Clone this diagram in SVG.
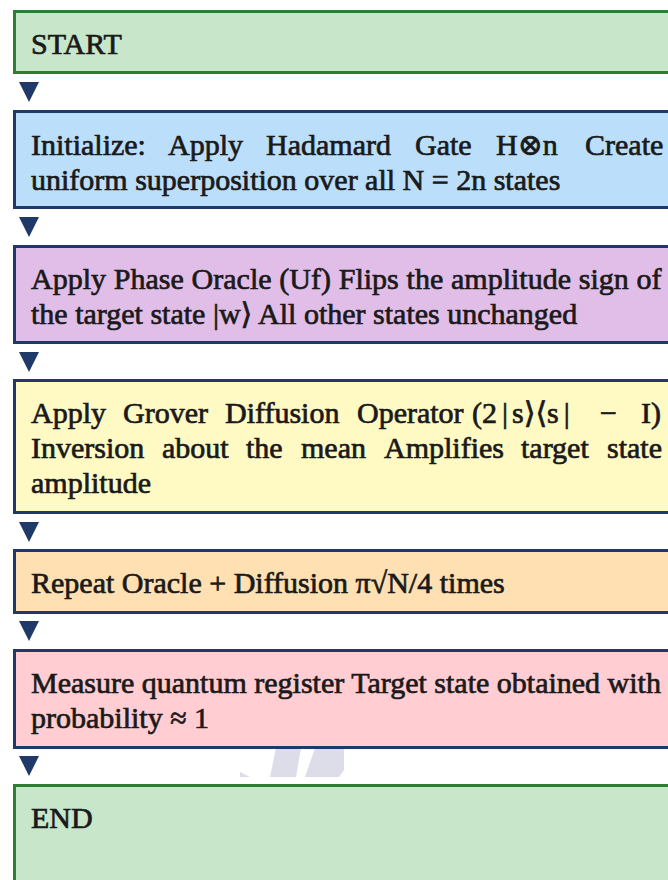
<svg xmlns="http://www.w3.org/2000/svg" width="668" height="880" viewBox="0 0 668 880">
  <defs>
    <style>
      .box-term { fill: #c8e6c9; stroke: #2e7d32; stroke-width: 3; }
      .box-step { stroke: #1f3a68; stroke-width: 3; }
      .label { font-family: "Liberation Serif", "DejaVu Serif", serif; font-size: 30px; fill: #1a1a1a; stroke: #1a1a1a; stroke-width: 0.7px; }
      .arrow { fill: #1f3a68; }
      .mark { fill: #dcdde8; }
    </style>
  </defs>
  <rect width="668" height="880" fill="#ffffff"/>

  <!-- faint logo fragments behind the last two boxes -->
  <g id="logo-fragments">
    <polygon class="mark" points="240,772 250,777 240,777"/>
    <polygon class="mark" points="276,748 301,748 296,777 270,777"/>
    <polygon class="mark" points="315,748 344,748 344,770 339,777 305,777"/>
  </g>

  <g id="connectors">
    <polygon class="arrow" points="19,82 39,82 29,102"/>
    <polygon class="arrow" points="19,217 39,217 29,237"/>
    <polygon class="arrow" points="19,352 39,352 29,372"/>
    <polygon class="arrow" points="19,522 39,522 29,542"/>
    <polygon class="arrow" points="19,621 39,621 29,641"/>
    <polygon class="arrow" points="19,756 39,756 29,776"/>
  </g>

  <g id="start">
    <rect class="box-term" x="14.5" y="11.5" width="680" height="61"/>
    <text class="label" x="31" y="54">START</text>
  </g>

  <g id="initialize">
    <rect class="box-step" fill="#bbdefb" x="14.5" y="111.5" width="680" height="96"/>
    <!-- justified first line: words placed on an even gap -->
    <text class="label" y="155"><tspan x="31">Initialize:</tspan><tspan x="168">Apply</tspan><tspan x="266">Hadamard</tspan><tspan x="415">Gate</tspan><tspan x="496">H⊗n</tspan><tspan x="585">Create</tspan></text>
    <text class="label" x="31" y="190">uniform superposition over all N = 2n states</text>
  </g>

  <g id="oracle">
    <rect class="box-step" fill="#e1bee7" x="14.5" y="246.5" width="680" height="96"/>
    <text class="label" x="31" y="289" word-spacing="0.3">Apply Phase Oracle (Uf) Flips the amplitude sign of</text>
    <text class="label" x="31" y="324">the target state |w⟩ All other states unchanged</text>
  </g>

  <g id="diffusion">
    <rect class="box-step" fill="#fff9c4" x="14.5" y="380.5" width="680" height="132"/>
    <text class="label" y="423"><tspan x="31">Apply</tspan><tspan x="123">Grover</tspan><tspan x="225">Diffusion</tspan><tspan x="357">Operator</tspan><tspan x="472">(2</tspan><tspan dx="5">|</tspan><tspan dx="4">s⟩⟨s</tspan><tspan dx="5">|</tspan><tspan x="600">−</tspan><tspan x="641">I)</tspan></text>
    <text class="label" y="458"><tspan x="31">Inversion</tspan><tspan x="162">about</tspan><tspan x="246">the</tspan><tspan x="301">mean</tspan><tspan x="384">Amplifies</tspan><tspan x="521">target</tspan><tspan x="607">state</tspan></text>
    <text class="label" x="31" y="493">amplitude</text>
  </g>

  <g id="repeat">
    <rect class="box-step" fill="#ffe0b2" x="14.5" y="550.5" width="680" height="62"/>
    <text class="label" x="31" y="593">Repeat Oracle + Diffusion π√N/4 times</text>
  </g>

  <g id="measure">
    <rect class="box-step" fill="#ffcdd2" x="14.5" y="650.5" width="680" height="97"/>
    <text class="label" x="31" y="693">Measure quantum register Target state obtained with</text>
    <text class="label" x="31" y="728">probability ≈ 1</text>
  </g>

  <g id="end">
    <rect class="box-term" x="14.5" y="785.5" width="680" height="120"/>
    <text class="label" x="31" y="828">END</text>
  </g>
</svg>
